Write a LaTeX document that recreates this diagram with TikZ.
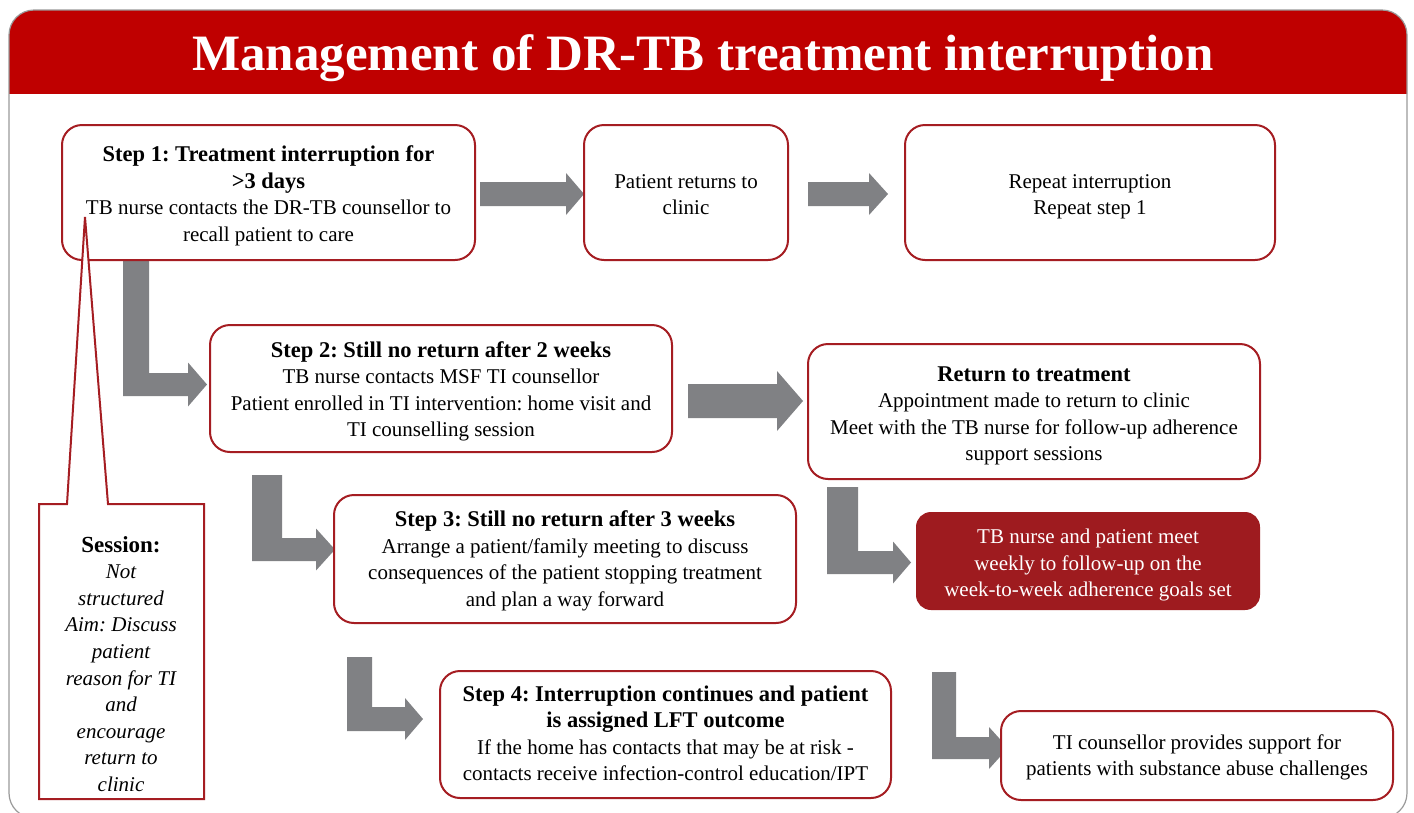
\documentclass[tikz,border=0pt]{standalone}
\usepackage{fontspec}
\setmainfont{Liberation Serif}
\frenchspacing
\definecolor{hdrred}{HTML}{BF0000}
\definecolor{boxred}{HTML}{A51D22}
\definecolor{fillred}{HTML}{9E1B1F}
\definecolor{arrowgrey}{HTML}{808184}
\definecolor{framegrey}{HTML}{9A9A9A}

% bold heading line inside a box
\newcommand\hd[1]{{\bfseries\fontsize{22.5}{26.5}\selectfont #1}}

% horizontal block arrow: (tail x, centre y, shaft height, head start x, tip x, head half height)
\def\blockH(#1,#2,#3,#4,#5,#6){%
  \fill[arrowgrey] (#1,{#2-#3/2}) -- (#4,{#2-#3/2}) -- (#4,{#2-#6}) -- (#5,#2)
    -- (#4,{#2+#6}) -- (#4,{#2+#3/2}) -- (#1,{#2+#3/2}) -- cycle;}

% L-shaped block arrow: (shaft left x, shaft width, top y, bottom y, shaft height,
%                        head start x, tip x, head half height)
\def\blockL(#1,#2,#3,#4,#5,#6,#7,#8){%
  \fill[arrowgrey] (#1,#3) -- ({#1+#2},#3) -- ({#1+#2},{#4-#5}) -- (#6,{#4-#5})
    -- (#6,{#4-#5/2-#8}) -- (#7,{#4-#5/2}) -- (#6,{#4-#5/2+#8}) -- (#6,#4)
    -- (#1,#4) -- cycle;}

% box with its text: {name}{style}{x}{y}{width}{height}{text offset}{text colour}{text}
\newcommand\flowbox[9]{%
  \node[#2, minimum width=#5pt, minimum height=#6pt] (#1) at (#3,#4) {};
  \node[boxtext, text=#8] (#1-text) at (#3,{#4+#7}) {#9};}

\begin{document}
\begin{tikzpicture}[x=1pt,y=-1pt,
  stepbox/.style={draw=boxred, line width=2pt, rounded corners=20pt, fill=white, inner sep=0pt},
  redbox/.style={stepbox, fill=fillred, draw=fillred, rounded corners=14pt},
  boxtext/.style={align=center, inner sep=0pt, font=\fontsize{21}{26.5}\selectfont},
  callout/.style={draw=boxred, line width=2pt, fill=white},
  calltext/.style={align=center, inner sep=0pt, font=\fontsize{21}{26.6}\selectfont}]

\useasboundingbox (0,0) rectangle (1414,812);
\fill[white] (0,0) rectangle (1414,812);

% frame and header band
\begin{scope}
  \clip (0,0) rectangle (1414,93);
  \fill[hdrred, rounded corners=25pt] (9,10) rectangle (1407,818);
\end{scope}
\draw[framegrey, line width=1.2pt, rounded corners=25pt] (9,10) rectangle (1407,818);
\node[anchor=base, text=white, inner sep=0pt, font=\bfseries\fontsize{51}{56}\selectfont]
  (title) at (703,70) {Management of DR-TB treatment interruption};

% block arrows
\blockH(480,194,24,566,584,21)
\blockH(808,194,24,869,888,21)
\blockH(688,401,34,777,803,30)
\blockL(123,26,260,396,23,188,207,22)
\blockL(252,30,475,561,23,316,335,21)
\blockL(827,31,487,574,23,893,911,21)
\blockL(347,25,657,731,24,405,423,21)
\blockL(932,24,672,759,22,989,1008,21)

% boxes
\flowbox{s1}{stepbox}{268.5}{192.5}{413}{135}{3.5}{black}
  {\hd{Step 1: Treatment interruption for}\\ \hd{>3 days}\\
   TB nurse contacts the DR-TB counsellor to\\ recall patient to care}
\flowbox{back}{stepbox}{686}{192.5}{204}{135}{2}{black}
  {Patient returns to\\ clinic}
\flowbox{again}{stepbox}{1090}{192.5}{370}{135}{4.5}{black}
  {Repeat interruption\\ Repeat step 1}
\flowbox{s2}{stepbox}{441}{388.5}{462}{127}{3}{black}
  {\hd{Step 2: Still no return after 2 weeks}\\ TB nurse contacts MSF TI counsellor\\
   Patient enrolled in TI intervention: home visit and\\ TI counselling session}
\flowbox{rtt}{stepbox}{1034}{411.5}{452}{135}{4.5}{black}
  {\hd{Return to treatment}\\ Appointment made to return to clinic\\
   Meet with the TB nurse for follow-up adherence\\ support sessions}
\flowbox{s3}{stepbox}{565}{559}{462}{128}{2}{black}
  {\hd{Step 3: Still no return after 3 weeks}\\ Arrange a patient/family meeting to discuss\\
   consequences of the patient stopping treatment\\ and plan a way forward}
\flowbox{weekly}{redbox}{1088}{561}{342}{96}{4}{white}
  {TB nurse and patient meet\\ weekly to follow-up on the\\ week-to-week adherence goals set}
\flowbox{s4}{stepbox}{665.5}{734.5}{451}{127}{-1}{black}
  {\hd{Step 4: Interruption continues and patient}\\ \hd{is assigned LFT outcome}\\
   If the home has contacts that may be at risk -\\ contacts receive infection-control education/IPT}
\flowbox{subst}{stepbox}{1197}{755.5}{392}{89}{2}{black}
  {TI counsellor provides support for\\ patients with substance abuse challenges}

% session callout pointing into step 1
\draw[callout] (39,504) -- (67,504) -- (85,217) -- (108,504) -- (204,504)
  -- (204,799) -- (39,799) -- cycle;
\node[calltext] (sess) at (121,664)
  {{\bfseries\fontsize{23}{26.6}\selectfont Session:}\\ \itshape Not\\ \itshape structured\\
   \itshape Aim: Discuss\\ \itshape patient\\ \itshape reason for TI\\ \itshape and\\
   \itshape encourage\\ \itshape return to\\ \itshape clinic};

\end{tikzpicture}
\end{document}
